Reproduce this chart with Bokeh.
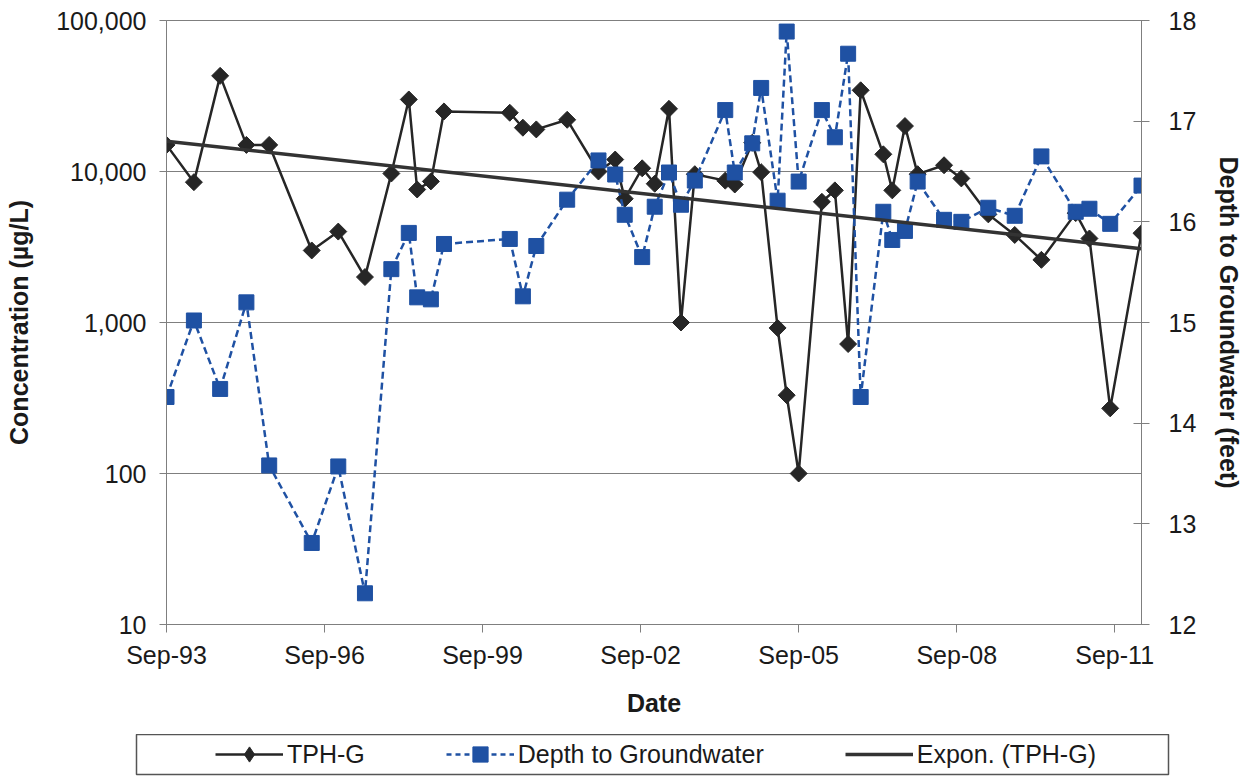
import numpy as np
import pandas as pd
from bokeh.plotting import figure
from bokeh.layouts import column
from bokeh.models import (Range1d, LinearAxis, LinearScale, FixedTicker, NumeralTickFormatter,
                          DatetimeTickFormatter, Legend, LegendItem)
from bokeh.embed import file_html
from bokeh.resources import INLINE

# ---------------- data ----------------
dates = [
    "1993-09-01", "1994-03-10", "1994-09-08", "1995-03-09", "1995-08-14",
    "1996-06-04", "1996-12-05", "1997-06-08", "1997-12-08", "1998-04-08",
    "1998-06-05", "1998-09-08", "1998-12-08", "2000-03-08", "2000-06-07",
    "2000-09-08", "2001-04-10", "2001-11-13", "2002-03-09", "2002-05-14",
    "2002-09-12", "2002-12-08", "2003-03-17", "2003-06-08", "2003-09-12",
    "2004-04-10", "2004-06-15", "2004-10-14", "2004-12-15", "2005-04-08",
    "2005-06-10", "2005-09-01", "2006-02-09", "2006-05-10", "2006-08-10",
    "2006-11-05", "2007-04-11", "2007-06-12", "2007-09-08", "2007-12-05",
    "2008-06-05", "2008-10-03", "2009-04-08", "2009-10-08", "2010-04-11",
    "2010-12-05", "2011-03-10", "2011-08-01", "2012-03-05",
]
tph_g = [
    15000, 8500, 43000, 15000, 15000,
    3000, 4000, 2000, 9700, 30000,
    7600, 8600, 25000, 24500, 19500,
    19000, 22000, 10000, 12000, 6600,
    10500, 8300, 26000, 1000, 9600,
    8700, 8200, 15500, 9900, 920,
    330, 100, 6300, 7500, 720,
    34500, 13000, 7500, 20000, 9600,
    11000, 9000, 5200, 3800, 2600,
    5300, 3600, 270, 3900,
]
depth_ft = [
    14.26, 15.02, 14.34, 15.20, 13.58,
    12.81, 13.57, 12.31, 15.53, 15.89,
    15.25, 15.23, 15.78, 15.83, 15.26,
    15.76, 16.22, 16.61, 16.47, 16.07,
    15.65, 16.15, 16.49, 16.17, 16.41,
    17.11, 16.49, 16.78, 17.33, 16.21,
    17.89, 16.40, 17.11, 16.84, 17.67,
    14.26, 16.10, 15.82, 15.91, 16.40,
    16.02, 16.00, 16.14, 16.06, 16.65,
    16.10, 16.13, 15.98, 16.36,
]
x_tick_dates = ["1993-09-01", "1996-09-01", "1999-09-01", "2002-09-01",
                "2005-09-01", "2008-09-01", "2011-09-01"]
conc_ticks = [10, 100, 1000, 10000, 100000]
depth_ticks = [12, 13, 14, 15, 16, 17, 18]
series_names = ["TPH-G", "Depth to Groundwater", "Expon. (TPH-G)"]

# ---------------- derived ----------------
x_ms = pd.to_datetime(dates).values.astype("datetime64[ms]").astype("int64").astype(float)
tick_ms = pd.to_datetime(x_tick_dates).values.astype("datetime64[ms]").astype("int64").astype(float)

# Exponential trend line of TPH-G (least squares on ln(y), as Excel does)
t_years = (x_ms - x_ms[0]) / (365.25 * 86400e3)
b, a = np.polyfit(t_years, np.log(np.array(tph_g, dtype=float)), 1)
trend_x = [x_ms[0], x_ms[-1]]
trend_y = list(np.exp(a + b * np.array([t_years[0], t_years[-1]])))

FONT = "Liberation Sans"
TXT = "#1a1a1a"
GRAY = "#7f7f7f"
DARK = "#262626"
BLUE = "#1f51a3"

p = figure(width=1248, height=734, x_axis_type="datetime", y_axis_type="log",
           x_range=Range1d(x_ms[0], x_ms[-1]), y_range=Range1d(10, 100000),
           output_backend="svg", toolbar_location=None,
           min_border_left=166, min_border_right=107, min_border_top=20,
           min_border_bottom=110)
p.extra_y_ranges = {"depth": Range1d(12, 18)}
p.extra_y_scales = {"depth": LinearScale()}
p.background_fill_color = "white"
p.border_fill_color = "white"
p.outline_line_color = GRAY
p.outline_line_width = 1

# grids
p.xgrid.visible = False
p.ygrid.ticker = FixedTicker(ticks=conc_ticks)
p.ygrid.grid_line_color = GRAY
p.ygrid.grid_line_width = 1

# left axis
ya = p.yaxis[0]
ya.ticker = FixedTicker(ticks=conc_ticks)
ya.formatter = NumeralTickFormatter(format="0,0")
ya.axis_label = "Concentration (µg/L)"

# bottom axis
xa = p.xaxis[0]
xa.ticker = FixedTicker(ticks=list(tick_ms))
fmt = "%b-%y"
xa.formatter = DatetimeTickFormatter(milliseconds=fmt, seconds=fmt, minsec=fmt, minutes=fmt,
                                     hourmin=fmt, hours=fmt, days=fmt, months=fmt, years=fmt)
xa.axis_label = "Date"

# right axis (linear, secondary)
ra = LinearAxis(y_range_name="depth", ticker=FixedTicker(ticks=depth_ticks),
                axis_label="Depth to Groundwater (feet)")
p.add_layout(ra, "right")

for ax in (ya, xa, ra):
    ax.axis_line_color = GRAY
    ax.axis_line_width = 1
    ax.major_tick_line_color = GRAY
    ax.minor_tick_line_color = None
    ax.major_label_text_font = FONT
    ax.major_label_text_font_size = "25px"
    ax.major_label_text_color = TXT
    ax.axis_label_text_font = FONT
    ax.axis_label_text_font_size = "25px"
    ax.axis_label_text_font_style = "bold"
    ax.axis_label_text_color = TXT

ya.major_tick_out = 7
ya.major_tick_in = 0
ya.major_label_standoff = 13
ya.axis_label_standoff = 20

xa.major_tick_out = 8
xa.major_tick_in = 0
xa.major_label_standoff = 8
xa.axis_label_standoff = 17

ra.major_tick_out = 8
ra.major_tick_in = 8
ra.major_label_standoff = 19
ra.axis_label_standoff = 16

# series
TPH_LINE = dict(line_color=DARK, line_width=2.5)
TPH_PTS = dict(marker="square", angle=np.pi / 4, size=12, fill_color=DARK, line_color=DARK)
DEP_LINE = dict(line_color=BLUE, line_width=2.5, line_dash="7 4")
DEP_PTS = dict(marker="square", size=15, fill_color=BLUE, line_color=BLUE)
TREND = dict(line_color="#333333", line_width=3.5)

p.line(x_ms, tph_g, **TPH_LINE)
p.scatter(x_ms, tph_g, **TPH_PTS)
p.line(x_ms, depth_ft, y_range_name="depth", **DEP_LINE)
p.scatter(x_ms, depth_ft, y_range_name="depth", **DEP_PTS)
p.line(trend_x, trend_y, **TREND)

# ---------------- legend strip (boxed, below the chart) ----------------
# The series are re-used here only so that the legend can show their glyphs;
# this strip's ranges keep the points themselves out of view.
lg = figure(width=1248, height=44, x_range=Range1d(0, 1), y_range=Range1d(0, 1),
            output_backend="svg", toolbar_location=None,
            x_axis_location=None, y_axis_location=None,
            min_border_left=136, min_border_right=80, min_border_top=0,
            min_border_bottom=4)
lg.xgrid.visible = False
lg.ygrid.visible = False
lg.outline_line_color = "#555555"
lg.outline_line_width = 1.5
lg.background_fill_color = "white"
lg.border_fill_color = "white"
try:
    lg.frame_align = False
    p.frame_align = False
except Exception:
    pass

k1 = lg.line(x_ms, tph_g, **TPH_LINE)
k2 = lg.scatter(x_ms, tph_g, marker="diamond", size=18, fill_color=DARK, line_color=DARK)
k3 = lg.line(x_ms, depth_ft, line_color=BLUE, line_width=2.5, line_dash="5 4")
k4 = lg.scatter(x_ms, depth_ft, **DEP_PTS)
k5 = lg.line(trend_x, trend_y, **TREND)

legend = Legend(items=[
    LegendItem(label=series_names[0], renderers=[k1, k2]),
    LegendItem(label=series_names[1], renderers=[k3, k4]),
    LegendItem(label=series_names[2], renderers=[k5]),
], orientation="horizontal", location=(79, 1), padding=0, margin=0,
    spacing=81, label_standoff=4, glyph_width=68, glyph_height=38,
    label_height=38, label_text_font=FONT, label_text_font_size="25px",
    label_text_color=TXT, border_line_alpha=0, background_fill_alpha=0)
lg.add_layout(legend)

layout = column(p, lg, spacing=0)
open("out.html", "w").write(file_html(layout, INLINE))
